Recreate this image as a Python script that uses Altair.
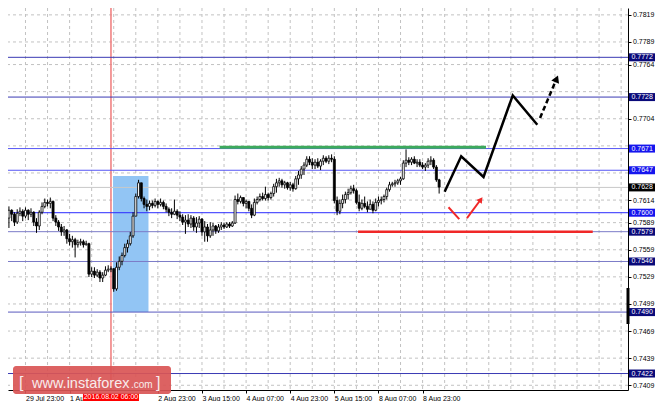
import altair as alt
import pandas as pd

# ---------------- data ----------------
bar_index = list(range(158))
first_open = 0.75690
close = [
    0.75940, 0.76027, 0.75983, 0.75896, 0.75994, 0.76016, 0.75962, 0.76027, 0.75983, 0.76005,
    0.75896, 0.75853, 0.76005, 0.76070, 0.76114, 0.76103, 0.76125, 0.75940, 0.75896, 0.75842,
    0.75788, 0.75809, 0.75712, 0.75679, 0.75701, 0.75646, 0.75668, 0.75679, 0.75646, 0.75657,
    0.75320, 0.75353, 0.75309, 0.75342, 0.75277, 0.75309, 0.75364, 0.75375, 0.75380, 0.75157,
    0.75396, 0.75462, 0.75527, 0.75614, 0.75657, 0.75744, 0.75962, 0.76179, 0.76331, 0.76157,
    0.76092, 0.76070, 0.76103, 0.76081, 0.76125, 0.76092, 0.76114, 0.76070, 0.76038, 0.76005,
    0.75983, 0.76016, 0.75973, 0.75951, 0.75896, 0.75918, 0.75875, 0.75940, 0.75842, 0.75886,
    0.75929, 0.75788, 0.75842, 0.75744, 0.75809, 0.75853, 0.75799, 0.75842, 0.75864, 0.75842,
    0.75875, 0.75853, 0.75886, 0.76146, 0.76125, 0.76168, 0.76103, 0.76125, 0.76049, 0.75973,
    0.76114, 0.76146, 0.76179, 0.76157, 0.76201, 0.76168, 0.76212, 0.76288, 0.76331, 0.76353,
    0.76309, 0.76331, 0.76277, 0.76309, 0.76266, 0.76375, 0.76418, 0.76483, 0.76527, 0.76592,
    0.76559, 0.76527, 0.76559, 0.76516, 0.76570, 0.76603, 0.76570, 0.76603, 0.76592, 0.76135,
    0.76016, 0.76103, 0.76146, 0.76201, 0.76222, 0.76266, 0.76244, 0.76114, 0.76049, 0.76103,
    0.76070, 0.76038, 0.76092, 0.76027, 0.76114, 0.76135, 0.76146, 0.76179, 0.76255, 0.76309,
    0.76320, 0.76331, 0.76353, 0.76375, 0.76549, 0.76581, 0.76559, 0.76592, 0.76549, 0.76559,
    0.76527, 0.76505, 0.76527, 0.76570, 0.76581, 0.76505, 0.76364, 0.76284,
]
high = [
    0.75983, 0.76070, 0.76038, 0.76005, 0.76038, 0.76059, 0.76038, 0.76059, 0.76038, 0.76049,
    0.76016, 0.75940, 0.76027, 0.76114, 0.76157, 0.76146, 0.76168, 0.76135, 0.75973, 0.75918,
    0.75875, 0.75853, 0.75820, 0.75766, 0.75744, 0.75722, 0.75701, 0.75712, 0.75701, 0.75690,
    0.75668, 0.75396, 0.75396, 0.75375, 0.75364, 0.75342, 0.75407, 0.75418, 0.75407, 0.75386,
    0.75451, 0.75516, 0.75559, 0.75657, 0.75701, 0.75788, 0.76005, 0.76212, 0.76364, 0.76331,
    0.76179, 0.76146, 0.76135, 0.76135, 0.76157, 0.76135, 0.76157, 0.76135, 0.76103, 0.76059,
    0.76049, 0.76146, 0.76038, 0.76016, 0.75983, 0.75973, 0.75983, 0.75973, 0.75962, 0.75951,
    0.75962, 0.75940, 0.75907, 0.75875, 0.75896, 0.75886, 0.75864, 0.75875, 0.75896, 0.75886,
    0.75896, 0.75896, 0.75907, 0.76190, 0.76212, 0.76190, 0.76168, 0.76146, 0.76125, 0.76092,
    0.76157, 0.76179, 0.76212, 0.76222, 0.76288, 0.76222, 0.76233, 0.76320, 0.76375, 0.76386,
    0.76375, 0.76353, 0.76342, 0.76342, 0.76331, 0.76407, 0.76462, 0.76516, 0.76559, 0.76625,
    0.76625, 0.76603, 0.76592, 0.76603, 0.76592, 0.76636, 0.76625, 0.76636, 0.76646, 0.76625,
    0.76179, 0.76146, 0.76201, 0.76233, 0.76266, 0.76299, 0.76309, 0.76266, 0.76201, 0.76146,
    0.76179, 0.76125, 0.76146, 0.76125, 0.76157, 0.76179, 0.76179, 0.76201, 0.76277, 0.76342,
    0.76342, 0.76364, 0.76375, 0.76396, 0.76581, 0.76701, 0.76614, 0.76614, 0.76625, 0.76592,
    0.76592, 0.76559, 0.76549, 0.76603, 0.76625, 0.76603, 0.76527, 0.76375,
]
low = [
    0.75614, 0.75831, 0.75907, 0.75853, 0.75875, 0.75962, 0.75907, 0.75940, 0.75918, 0.75951,
    0.75853, 0.75777, 0.75809, 0.75983, 0.76049, 0.76070, 0.76049, 0.75907, 0.75853, 0.75799,
    0.75744, 0.75744, 0.75657, 0.75636, 0.75614, 0.75505, 0.75614, 0.75636, 0.75614, 0.75636,
    0.75288, 0.75288, 0.75277, 0.75288, 0.75233, 0.75233, 0.75299, 0.75342, 0.75342, 0.75125,
    0.75136, 0.75364, 0.75418, 0.75505, 0.75559, 0.75636, 0.75722, 0.75962, 0.76157, 0.76125,
    0.76049, 0.76016, 0.76027, 0.76049, 0.76059, 0.76049, 0.76070, 0.76038, 0.76005, 0.75962,
    0.75940, 0.75973, 0.75929, 0.75907, 0.75864, 0.75766, 0.75842, 0.75831, 0.75799, 0.75777,
    0.75831, 0.75744, 0.75679, 0.75679, 0.75722, 0.75744, 0.75766, 0.75777, 0.75809, 0.75820,
    0.75831, 0.75831, 0.75842, 0.75875, 0.76092, 0.76103, 0.76070, 0.76049, 0.76016, 0.75940,
    0.75962, 0.76092, 0.76125, 0.76135, 0.76135, 0.76135, 0.76146, 0.76179, 0.76222, 0.76288,
    0.76277, 0.76266, 0.76255, 0.76244, 0.76233, 0.76255, 0.76309, 0.76375, 0.76418, 0.76505,
    0.76527, 0.76483, 0.76483, 0.76494, 0.76472, 0.76527, 0.76549, 0.76538, 0.76559, 0.76103,
    0.75973, 0.75983, 0.76049, 0.76103, 0.76146, 0.76201, 0.76212, 0.76092, 0.76016, 0.76027,
    0.76049, 0.76005, 0.76038, 0.75994, 0.76016, 0.76070, 0.76092, 0.76114, 0.76146, 0.76233,
    0.76288, 0.76288, 0.76309, 0.76309, 0.76364, 0.76505, 0.76527, 0.76527, 0.76538, 0.76505,
    0.76505, 0.76483, 0.76462, 0.76494, 0.76527, 0.76483, 0.76342, 0.76212,
]
open_ = [first_open] + close[:-1]

# time-axis labels (the "2 Aug 07:00" one sits under the event marker and is left out)
x_label_bars = [7, 23, 55, 71, 87, 103, 119, 135, 151]
x_label_text = ["29 Jul 23:00", "1 Aug 15:00", "2 Aug 23:00", "3 Aug 15:00",
                "4 Aug 07:00", "4 Aug 23:00", "5 Aug 15:00", "8 Aug 07:00", "8 Aug 23:00"]
grid_bars = list(range(7, 224, 8))
y_grid = [0.7819, 0.7789, 0.7764, 0.7734, 0.7704, 0.7674, 0.7644, 0.7614,
          0.7589, 0.7559, 0.7529, 0.7499, 0.7469, 0.7439, 0.7409]
# price labels not hidden behind the level tags
y_labels = [0.7819, 0.7789, 0.7764, 0.7704, 0.7614,
            0.7589, 0.7559, 0.7529, 0.7499, 0.7469, 0.7439, 0.7409]

level_price = [0.7772, 0.7728, 0.7671, 0.7647, 0.7600, 0.7579, 0.7546, 0.7490, 0.7422]
level_color = ["#3A3AB4", "#3A3AB4", "#5555F5", "#5555F5", "#2B2BFF",
               "#7C7CC8", "#7C7CC8", "#5A5ABE", "#3A3AB4"]

tag_price = [0.7772, 0.7728, 0.7671, 0.7647, 0.7628, 0.7600, 0.7579, 0.7546, 0.7490, 0.7422]
tag_color = ["#0A0A7A", "#0A0A7A", "#1515EE", "#1515EE", "#000000",
             "#1515EE", "#0A0A7A", "#0A0A7A", "#0A0A7A", "#0A0A7A"]

current_price = 0.7628
event_bar = 38
event_label = "2016.08.02 06:00"

zone_bars = [38.75, 51.6]
zone_prices = [0.7490, 0.76407]

green_bars, green_price = [77.4, 174.0], 0.76725
red_bars, red_price = [127.6, 212.7], 0.7579

black_path_bar = [159.0, 165.0, 173.1, 183.7, 192.6]
black_path_price = [0.76233, 0.76625, 0.76396, 0.77299, 0.76973]
black_dash_bar = [193.6, 199.6]
black_dash_price = [0.77049, 0.77483]
red_path_bar = [160.4, 164.3]
red_path_price = [0.76060, 0.75929]
red_dash_bar = [167.1, 172.1]
red_dash_price = [0.75940, 0.76146]

watermark = ["[", "www.instaforex", ".com", "]"]

# ---------------- chart ----------------
W, H = 620, 382
XS = alt.Scale(domain=[2.4735, 223.675], nice=False, zero=False)
YS = alt.Scale(domain=[0.740376, 0.78266], nice=False, zero=False)
FONT = "Liberation Sans"

label_expr = ("[" + ",".join("'%s'" % t for t in x_label_text) + "][indexof(["
              + ",".join(str(b) for b in x_label_bars) + "], datum.value)]")
X_AXIS = alt.Axis(orient="bottom", values=x_label_bars, labelExpr=label_expr, labelAlign="left",
                  labelPadding=1, tickSize=3, grid=False, title=None, labelOverlap=False,
                  labelFlush=False, labelBound=False)
Y_AXIS = alt.Axis(orient="right", values=y_labels, format=".4f", tickSize=3, labelPadding=1.5,
                  grid=False, title=None, labelOverlap=False, labelFlush=False, labelBound=False)


def xq(f):
    return alt.X(f, type="quantitative", scale=XS, axis=X_AXIS)


def yq(f):
    return alt.Y(f, type="quantitative", scale=YS, axis=Y_AXIS)


one = pd.DataFrame({"k": [0]})
candles = pd.DataFrame({"bar": bar_index, "open": open_, "high": high,
                        "low": low, "close": close})

vgrid = alt.Chart(pd.DataFrame({"bar": grid_bars})).mark_rule(
    color="#C2C2C2", strokeDash=[3, 3], strokeWidth=1, clip=True).encode(x=xq("bar"))

hgrid = alt.Chart(pd.DataFrame({"p": y_grid})).mark_rule(
    color="#C2C2C2", strokeDash=[3, 3], strokeWidth=1, clip=True).encode(y=yq("p"))

zone = alt.Chart(pd.DataFrame({"b0": [zone_bars[0]], "b1": [zone_bars[1]],
                               "p0": [zone_prices[0]], "p1": [zone_prices[1]]})).mark_rect(
    color="#92C5F4", clip=True).encode(x=xq("b0"), x2="b1", y=yq("p0"), y2="p1")

vline = alt.Chart(pd.DataFrame({"bar": [event_bar]})).mark_rule(
    color="#F07A7A", strokeWidth=1.5, clip=True).encode(x=xq("bar"))

cur = alt.Chart(pd.DataFrame({"p": [current_price]})).mark_rule(
    color="#C8C8C8", strokeWidth=1, clip=True).encode(y=yq("p"))

levels = alt.Chart(pd.DataFrame({"p": level_price, "c": level_color})).mark_rule(
    strokeWidth=1, clip=True).encode(y=yq("p"), color=alt.Color("c:N", scale=None))

segs = alt.Chart(pd.DataFrame({
    "b0": [green_bars[0], red_bars[0]], "b1": [green_bars[1], red_bars[1]],
    "p": [green_price, red_price], "c": ["#3DAA5C", "#F02828"], "w": [3, 2.5]
})).mark_rule(clip=True).encode(
    x=xq("b0"), x2="b1", y=yq("p"), color=alt.Color("c:N", scale=None),
    strokeWidth=alt.StrokeWidth("w:Q", scale=None))

wicks = alt.Chart(candles).mark_rule(color="black", strokeWidth=1, clip=True).encode(
    x=xq("bar"), y=yq("low"), y2="high")

bodies = alt.Chart(candles).mark_bar(size=2, stroke="black", strokeWidth=0.8, clip=True).encode(
    x=xq("bar"), y=yq("open"), y2="close",
    fill=alt.condition("datum.close >= datum.open", alt.value("white"), alt.value("black")))

paths = pd.DataFrame({
    "seg": ["bs"] * len(black_path_bar) + ["bd"] * 2 + ["rs"] * 2 + ["rd"] * 2,
    "k": list(range(len(black_path_bar))) + [0, 1, 0, 1, 0, 1],
    "bar": black_path_bar + black_dash_bar + red_path_bar + red_dash_bar,
    "p": black_path_price + black_dash_price + red_path_price + red_dash_price,
})

solid_black = alt.Chart(paths[paths.seg == "bs"]).mark_line(
    color="black", strokeWidth=2.5, clip=True).encode(x=xq("bar"), y=yq("p"), order="k:Q")
dash_black = alt.Chart(paths[paths.seg == "bd"]).mark_line(
    color="black", strokeWidth=2.5, strokeDash=[5, 3], clip=True).encode(
    x=xq("bar"), y=yq("p"), order="k:Q")
solid_red = alt.Chart(paths[paths.seg == "rs"]).mark_line(
    color="#F02828", strokeWidth=2, clip=True).encode(x=xq("bar"), y=yq("p"), order="k:Q")
dash_red = alt.Chart(paths[paths.seg == "rd"]).mark_line(
    color="#F02828", strokeWidth=2, clip=True).encode(x=xq("bar"), y=yq("p"), order="k:Q")

head_black = alt.Chart(pd.DataFrame({"bar": [black_dash_bar[1]], "p": [black_dash_price[1]]})).mark_point(
    shape="triangle-up", filled=True, size=70, color="black", opacity=1, angle=23).encode(
    x=xq("bar"), y=yq("p"))
head_red = alt.Chart(pd.DataFrame({"bar": [red_dash_bar[1]], "p": [red_dash_price[1]]})).mark_point(
    shape="triangle-up", filled=True, size=45, color="#F02828", opacity=1, angle=36).encode(
    x=xq("bar"), y=yq("p"))

tags_df = pd.DataFrame({"p": tag_price, "c": tag_color, "t": ["%.4f" % v for v in tag_price]})
tag_boxes = alt.Chart(tags_df).mark_tick(orient="horizontal", size=26, thickness=8, opacity=1).encode(
    x=alt.value(634), y=yq("p"), color=alt.Color("c:N", scale=None))
tag_text = alt.Chart(tags_df).mark_text(
    align="left", baseline="middle", font=FONT, fontSize=7, color="white").encode(
    x=alt.value(623.5), y=yq("p"), text="t:N")

ev_df = pd.DataFrame({"bar": [event_bar], "t": [event_label]})
ev_box = alt.Chart(ev_df).mark_tick(orient="horizontal", size=56, thickness=8, color="#FF0000",
                                    opacity=1).encode(x=xq("bar"), y=alt.value(389))
ev_text = alt.Chart(ev_df).mark_text(align="center", baseline="middle", font=FONT, fontSize=7,
                                     color="white").encode(x=xq("bar"), y=alt.value(389), text="t:N")

wm_box = alt.Chart(one).mark_rect(color="#D95555", opacity=0.92, cornerRadius=3).encode(
    x=alt.value(5), x2=alt.value(163), y=alt.value(358), y2=alt.value(386))


def wm_piece(text, xpix, size):
    return alt.Chart(one).mark_text(align="left", baseline="alphabetic", font=FONT,
                                    fontSize=size, color="#F8ECEC", text=text).encode(
        x=alt.value(xpix), y=alt.value(380))


wm_texts = [wm_piece(watermark[0], 11, 16), wm_piece(watermark[1], 24, 14.5),
            wm_piece(watermark[2], 123, 10), wm_piece(watermark[3], 148, 16)]

scroll = alt.Chart(one).mark_rule(color="black", strokeWidth=3).encode(
    x=alt.value(620), y=alt.value(280), y2=alt.value(316))

chart = alt.layer(
    vgrid, hgrid, zone, vline, cur, levels, segs, wicks, bodies,
    solid_black, dash_black, solid_red, dash_red, head_black, head_red,
    tag_boxes, tag_text, ev_box, ev_text, wm_box, *wm_texts, scroll
).properties(
    width=W, height=H,
    autosize=alt.AutoSizeParams(type="none"),
    padding={"left": 0, "top": 0, "right": 28, "bottom": 11},
).configure_view(stroke=None).configure_axis(
    labelFont=FONT, labelFontSize=7, labelColor="black", domainColor="black",
    tickColor="black", domainWidth=1
)

chart.save("out.html", embed_options={"renderer": "svg", "actions": False})
